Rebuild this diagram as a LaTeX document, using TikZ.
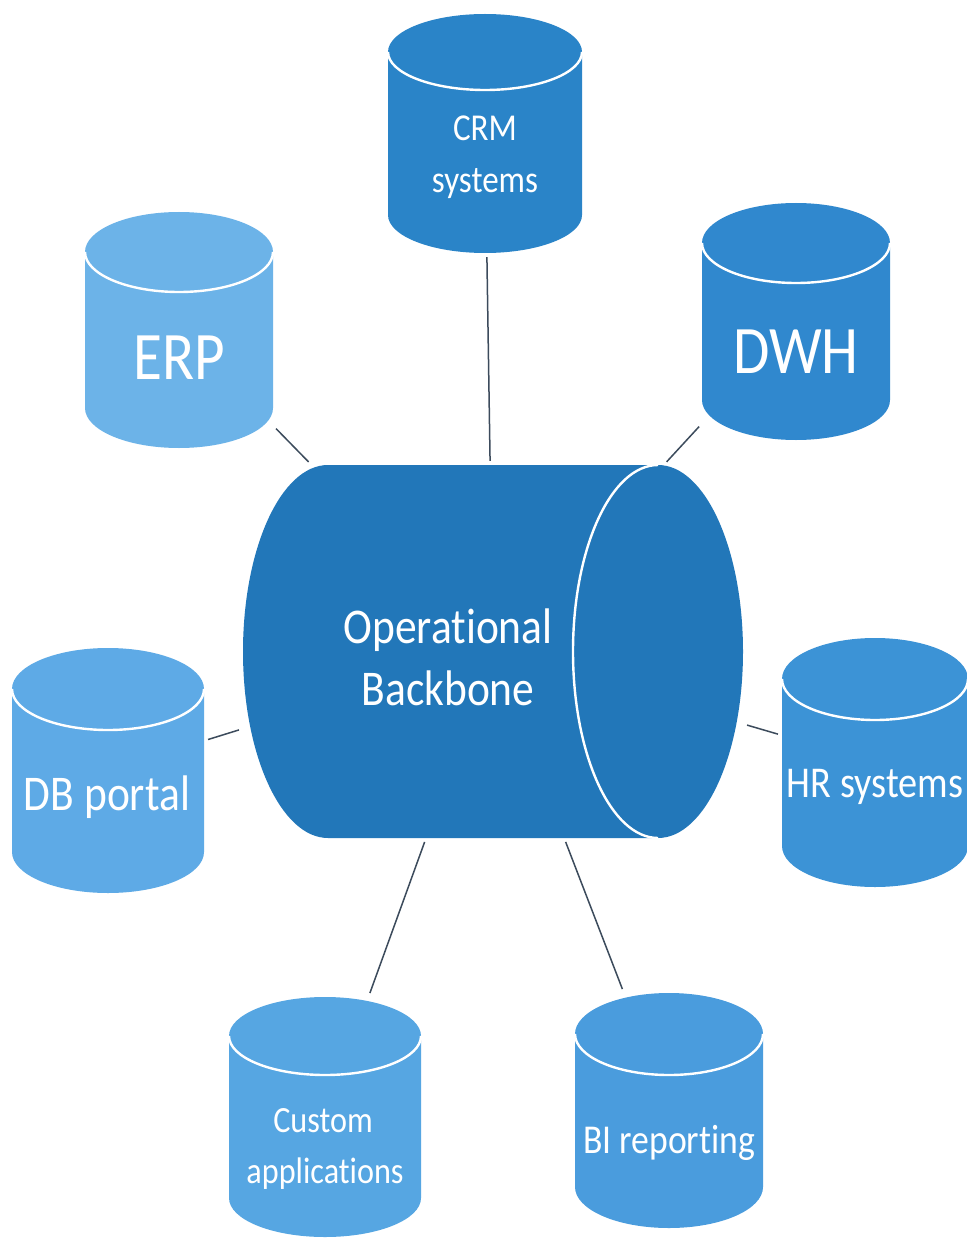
\documentclass[tikz,border=0pt]{standalone}
\usepackage{fontspec}
\newfontfamily\lblfont[FakeStretch=0.87, Ligatures=NoCommon]{Carlito}

% fill colours of the storage cylinders
\definecolor{coreblue}{HTML}{2277B9}
\definecolor{crmblue}{HTML}{2A84C8}
\definecolor{dwhblue}{HTML}{3088CE}
\definecolor{erpblue}{HTML}{6CB3E8}
\definecolor{portalblue}{HTML}{5EAAE6}
\definecolor{hrblue}{HTML}{3C93D6}
\definecolor{custblue}{HTML}{56A6E2}
\definecolor{biblue}{HTML}{4A9CDD}
\definecolor{linkgray}{HTML}{3C4B5C}

% upright cylinder: centre x, top ellipse y, x radius, y radius, bottom ellipse y, colour
\newcommand{\dbcylinder}[6]{%
  \fill[#6] (#1-#3,-#2) -- (#1-#3,-#5)
    arc[start angle=180, end angle=360, x radius=#3, y radius=#4]
    -- (#1+#3,-#2)
    arc[start angle=0, end angle=180, x radius=#3, y radius=#4] -- cycle;
  \draw[white, line width=2.4pt]
    (#1-#3,-#2) arc[start angle=180, end angle=360, x radius=#3, y radius=#4];
}

\begin{document}
\begin{tikzpicture}[x=1pt, y=1pt,
  lbl/.style={text=white, inner sep=0pt, anchor=base},
  hub/.style={rectangle, inner sep=0pt, draw=none},
  link/.style={draw=linkgray, line width=1.5pt, shorten >=4pt, shorten <=4pt}]

\useasboundingbox (0,-1241) rectangle (966,0);
\fill[white] (0,-1241) rectangle (966,0);

% --- central horizontal cylinder
\fill[coreblue] (328,-465) -- (658,-465)
  arc[start angle=90, end angle=-90, x radius=85, y radius=186.5]
  -- (328,-838)
  arc[start angle=270, end angle=90, x radius=85, y radius=186.5] -- cycle;
\draw[white, line width=2.4pt] (658,-465)
  arc[start angle=90, end angle=270, x radius=85, y radius=186.5];
\node[hub, minimum width=500pt, minimum height=373pt] (core) at (493,-651.5) {};
\node[lbl, font=\lblfont\fontsize{50}{56}\selectfont] (core-l1) at (448,-643) {Operational};
\node[lbl, font=\lblfont\fontsize{50}{56}\selectfont] (core-l2) at (448,-705) {Backbone};

% --- satellite cylinders
\dbcylinder{485}{52}{97}{38}{215}{crmblue}
\node[hub, minimum width=194pt, minimum height=239pt] (crm) at (485,-133.5) {};
\node[lbl, font=\lblfont\fontsize{38}{40}\selectfont] (crm-l1) at (485,-141) {CRM};
\node[lbl, font=\lblfont\fontsize{38}{40}\selectfont] (crm-l2) at (485,-193) {systems};

\dbcylinder{179}{252}{94}{40}{408}{erpblue}
\node[hub, minimum width=188pt, minimum height=236pt] (erp) at (179,-330) {};
\node[lbl, font=\lblfont\fontsize{68}{70}\selectfont] (erp-l) at (179,-379) {ERP};

\dbcylinder{796}{243}{94}{40}{400}{dwhblue}
\node[hub, minimum width=188pt, minimum height=237pt] (dwh) at (796,-321.5) {};
\node[lbl, font=\lblfont\fontsize{68}{70}\selectfont] (dwh-l) at (796,-373) {DWH};

\dbcylinder{108}{689}{96}{41}{852}{portalblue}
\node[hub, minimum width=192pt, minimum height=245pt] (portal) at (108,-770.5) {};
\node[lbl, font=\lblfont\fontsize{50}{54}\selectfont] (portal-l) at (107,-810) {DB portal};

\dbcylinder{875}{679}{93}{41}{846}{hrblue}
\node[hub, minimum width=186pt, minimum height=249pt] (hr) at (875,-762.5) {};
\node[lbl, font=\lblfont\fontsize{44}{48}\selectfont] (hr-l) at (875,-797) {HR systems};

\dbcylinder{325}{1036}{96}{39}{1198}{custblue}
\node[hub, minimum width=192pt, minimum height=240pt] (cust) at (325,-1117) {};
\node[lbl, font=\lblfont\fontsize{37}{40}\selectfont] (cust-l1) at (323,-1132) {Custom};
\node[lbl, font=\lblfont\fontsize{37}{40}\selectfont] (cust-l2) at (325,-1183) {applications};

\dbcylinder{669}{1034}{94}{41}{1187}{biblue}
\node[hub, minimum width=188pt, minimum height=235pt] (bi) at (669,-1110.5) {};
\node[lbl, font=\lblfont\fontsize{41}{44}\selectfont] (bi-l) at (669,-1153) {BI reporting};

% --- connectors to the backbone
\draw[link] (crm) -- (core);
\draw[link] (erp) -- (core);
\draw[link] (dwh) -- (core);
\draw[link] (portal) -- (core);
\draw[link] (hr) -- (core);
\draw[link] (cust) -- (core);
\draw[link] (bi) -- (core);
\end{tikzpicture}
\end{document}
